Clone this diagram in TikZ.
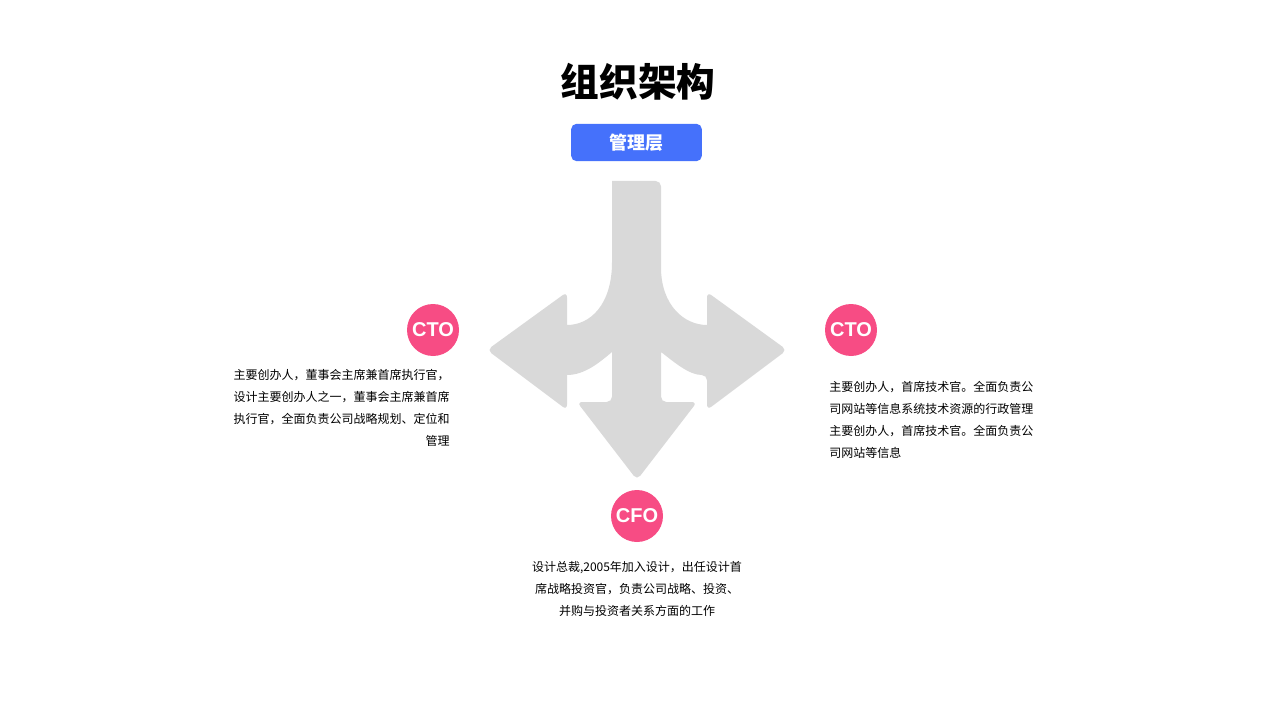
\documentclass[tikz,border=0pt]{standalone}
\usepackage{fontspec}
\setmainfont{Noto Sans CJK SC}
\setsansfont{Liberation Sans}
\usetikzlibrary{positioning}
\definecolor{rolepink}{HTML}{F74C84}
\definecolor{headblue}{HTML}{4571FB}
\definecolor{arrowgray}{HTML}{D9D9D9}
\begin{document}
\begin{tikzpicture}[x=0.75pt,y=-0.75pt]
        \tikzset{role/.style = {shape=circle,fill=rolepink,text=white,minimum size=39pt,inner sep=0pt,font=\sffamily\bfseries\fontsize{15}{15}\selectfont}}
        \tikzset{desc/.style = {font=\fontsize{9}{16.5}\selectfont,inner sep=0pt}}
        \useasboundingbox (0,0) rectangle (1280,720);
        % title
        \node[font=\bfseries\fontsize{29}{29}\selectfont] (title) at (638,82) {组织架构};
        \node[fill=headblue,rounded corners=4pt,minimum width=98pt,minimum height=28pt,text=white,font=\bfseries\fontsize{13.5}{13.5}\selectfont] (head) at (636.5,142.5) {管理层};
        % arrows
        \fill[arrowgray,rounded corners=4pt] (612,181) -- (661,181) -- (661,262)
          [sharp corners] .. controls (661,305) and (684,325) .. (707,325)
          [rounded corners=4pt] -- (707,292) -- (787,350) -- (707,410) -- (707,375)
          [sharp corners] .. controls (689,375) and (674,362) .. (661,352)
          [rounded corners=4pt] -- (661,402) -- (697,402) -- (637,480) -- (577,402) -- (612,402)
          [sharp corners] -- (612,352) .. controls (600,362) and (585,375) .. (567,375)
          [rounded corners=4pt] -- (567,410) -- (487,350) -- (567,292)
          [sharp corners] -- (567,325) .. controls (590,325) and (612,305) .. (612,262) -- cycle;
        % roles
        \node[role] (left) at (433,330) {CTO};
        \node[role] (right) at (851,330) {CTO};
        \node[role] (bottom) at (637,516) {CFO};
        % texts
        \node[desc,align=right,anchor=north east] (ltext) at (450,369) {主要创办人，董事会主席兼首席执行官，\\设计主要创办人之一，董事会主席兼首席\\执行官，全面负责公司战略规划、定位和\\管理};
        \node[desc,align=left,anchor=north west] (rtext) at (829,381) {主要创办人，首席技术官。全面负责公\\司网站等信息系统技术资源的行政管理\\主要创办人，首席技术官。全面负责公\\司网站等信息};
        \node[desc,align=center,anchor=north] (btext) at (637,561) {设计总裁,2005年加入设计，出任设计首\\席战略投资官，负责公司战略、投资、\\并购与投资者关系方面的工作};
\end{tikzpicture}
\end{document}
